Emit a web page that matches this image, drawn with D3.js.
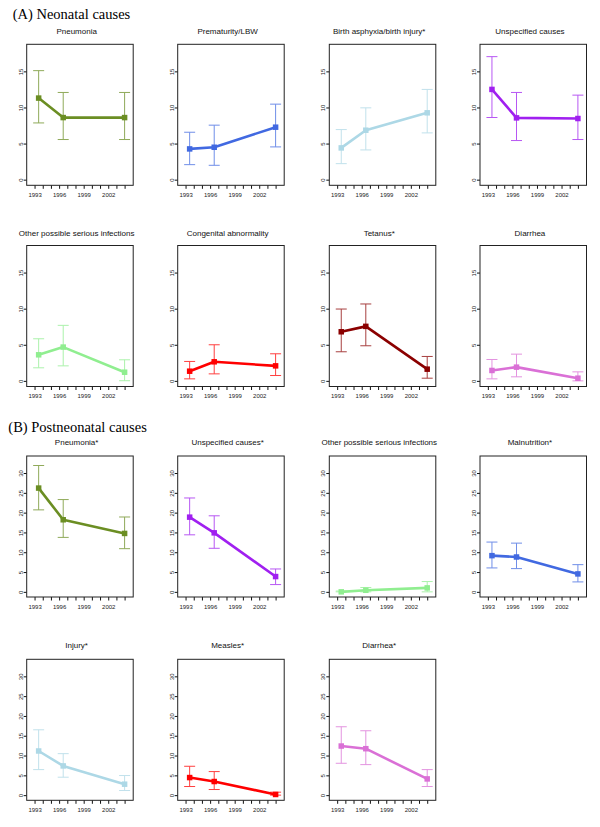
<!DOCTYPE html>
<html>
<head>
<meta charset="utf-8">
<script src="https://cdn.jsdelivr.net/npm/d3@7"></script>
<style>
  html, body { margin: 0; padding: 0; background: #fff; }
  svg { display: block; }
</style>
</head>
<body>
<svg id="chart" width="600" height="827"></svg>
<script>
// ---------------- DATA ----------------
const surveyYears = [1993.5, 1996.5, 2004];
const xTickYears = [1993, 1994, 1995, 1996, 1997, 1998, 1999, 2000, 2001, 2002, 2003, 2004];
const xTickLabels = [1993, 1996, 1999, 2002];
const neoTicks = [0, 5, 10, 15];
const postTicks = [0, 5, 10, 15, 20, 25, 30];

const neonatalCauses = ["Pneumonia", "Prematurity/LBW", "Birth asphyxia/birth injury*", "Unspecified causes",
  "Other possible serious infections", "Congenital abnormality", "Tetanus*", "Diarrhea"];
const neonatalEst = [
  [11.3, 8.6, 8.6], [4.26, 4.49, 7.27], [4.4, 6.85, 9.26], [12.5, 8.56, 8.47],
  [3.61, 4.68, 1.2], [1.34, 2.64, 2.08], [6.8, 7.55, 1.62], [1.44, 1.9, 0.37]];
const neonatalLower = [
  [7.86, 5.56, 5.56], [2.08, 1.99, 4.54], [2.22, 4.12, 6.48], [8.61, 5.42, 5.56],
  [1.81, 2.08, 0.02], [0.28, 0.97, 0.74], [4.03, 4.86, 0.37], [0.28, 0.56, 0.0]];
const neonatalUpper = [
  [15.1, 12.08, 12.08], [6.57, 7.55, 10.46], [6.94, 9.95, 12.5], [17.04, 12.08, 11.71],
  [5.83, 7.69, 2.92], [2.69, 5.0, 3.75], [9.95, 10.65, 3.38], [2.96, 3.7, 1.25]];

const postneonatalCauses = ["Pneumonia*", "Unspecified causes*", "Other possible serious infections", "Malnutrition*",
  "Injury*", "Measles*", "Diarrhea*"];
const postneonatalEst = [
  [26.2, 18.2, 14.75], [18.86, 14.9, 3.86], [0.0, 0.4, 1.0], [9.14, 8.8, 4.53],
  [11.15, 7.38, 2.77], [4.44, 3.44, 0.17], [12.4, 11.73, 4.1]];
const postneonatalLower = [
  [20.7, 13.75, 10.9], [14.4, 11.0, 1.84], [0.0, 0.0, 0.0], [6.04, 5.87, 2.51],
  [6.45, 4.53, 1.17], [2.18, 1.42, 0.0], [8.05, 7.71, 2.18]];
const postneonatalUpper = [
  [31.9, 23.3, 18.9], [23.7, 19.2, 5.78], [0.2, 1.1, 2.6], [12.57, 12.3, 6.87],
  [16.5, 10.48, 4.95], [7.29, 5.95, 0.75], [17.27, 16.26, 6.45]];

// colours (styles kept apart from data)
const neonatalColors = ["#6B8E23", "#4169E1", "#ADD8E6", "#A020F0", "#90EE90", "#FF0000", "#8B0000", "#DA70D6"];
const postneonatalColors = ["#6B8E23", "#A020F0", "#90EE90", "#4169E1", "#ADD8E6", "#FF0000", "#DA70D6"];

// ---------------- LAYOUT ----------------
const svg = d3.select("#chart");
const colLeft = [26.7, 177.7, 329.3, 480];
const boxW = 106.5, boxH = 141;
const rowTopA = [44.3, 245.5];
const rowTopB = [456, 659.3];

svg.append("text").attr("x", 12.7).attr("y", 19.3)
  .attr("font-family", "Liberation Serif, Times New Roman, serif").attr("font-size", 14.5)
  .attr("fill", "#000").text("(A) Neonatal causes");
svg.append("text").attr("x", 8.3).attr("y", 432.3)
  .attr("font-family", "Liberation Serif, Times New Roman, serif").attr("font-size", 14.5)
  .attr("fill", "#000").text("(B) Postneonatal causes");

function panel(left, top, title, est, lo, hi, color, yDomain, yTicks, titleGap) {
  const g = svg.append("g").attr("transform", `translate(${left},${top})`);
  const x = d3.scaleLinear().domain([1992.04, 2005.05]).range([0, boxW]);
  const y = d3.scaleLinear().domain(yDomain).range([boxH, 0]);

  // title
  g.append("text").attr("x", boxW / 2 - 3.3).attr("y", -titleGap)
    .attr("text-anchor", "middle")
    .attr("font-family", "Liberation Sans, Arial, sans-serif").attr("font-size", 8)
    .attr("fill", "#111").text(title);

  // y axis
  const ya = g.append("g").call(d3.axisLeft(y).tickValues(yTicks).tickSize(3).tickFormat(d3.format("d")));
  ya.select(".domain").remove();
  ya.selectAll(".tick line").attr("stroke", "#111");
  ya.selectAll(".tick text")
    .attr("x", null).attr("dy", null)
    .attr("transform", "translate(-4,0) rotate(-90)")
    .attr("text-anchor", "middle")
    .attr("font-family", "Liberation Sans, Arial, sans-serif").attr("font-size", 6)
    .attr("fill", "#222");

  // x axis
  const xa = g.append("g").attr("transform", `translate(0,${boxH})`)
    .call(d3.axisBottom(x).tickValues(xTickYears).tickSize(3.5)
      .tickFormat(d => xTickLabels.includes(d) ? String(d) : ""));
  xa.select(".domain").remove();
  xa.selectAll(".tick line").attr("stroke", "#111");
  xa.selectAll(".tick text").attr("y", 7.5).attr("dy", "0.71em")
    .attr("font-family", "Liberation Sans, Arial, sans-serif").attr("font-size", 6)
    .attr("fill", "#222");

  // frame
  g.append("rect").attr("x", 0).attr("y", 0).attr("width", boxW).attr("height", boxH)
    .attr("fill", "none").attr("stroke", "#222").attr("stroke-width", 1);

  const pts = surveyYears.map((yr, i) => ({ yr, v: est[i], lo: lo[i], hi: hi[i] }));

  // error bars
  const eb = g.append("g").attr("stroke", color).attr("stroke-width", 1).attr("opacity", 0.75);
  pts.forEach(p => {
    const cx = x(p.yr);
    eb.append("line").attr("x1", cx).attr("x2", cx).attr("y1", y(p.lo)).attr("y2", y(p.hi));
    eb.append("line").attr("x1", cx - 5.5).attr("x2", cx + 5.5).attr("y1", y(p.lo)).attr("y2", y(p.lo));
    eb.append("line").attr("x1", cx - 5.5).attr("x2", cx + 5.5).attr("y1", y(p.hi)).attr("y2", y(p.hi));
  });

  // line
  g.append("path").datum(pts)
    .attr("d", d3.line().x(d => x(d.yr)).y(d => y(d.v)))
    .attr("fill", "none").attr("stroke", color).attr("stroke-width", 2.6)
    .attr("stroke-linejoin", "round");

  // markers
  g.selectAll("rect.pt").data(pts).enter().append("rect").attr("class", "pt")
    .attr("x", d => x(d.yr) - 2.75).attr("y", d => y(d.v) - 2.75)
    .attr("width", 5.5).attr("height", 5.5).attr("fill", color);
}

neonatalCauses.forEach((name, i) => {
  const col = i % 4, row = Math.floor(i / 4);
  panel(colLeft[col], rowTopA[row], name, neonatalEst[i], neonatalLower[i], neonatalUpper[i],
    neonatalColors[i], [-0.78, 18.75], neoTicks, 10);
});
postneonatalCauses.forEach((name, i) => {
  const col = i % 4, row = Math.floor(i / 4);
  panel(colLeft[col], rowTopB[row], name, postneonatalEst[i], postneonatalLower[i], postneonatalUpper[i],
    postneonatalColors[i], [-1.3, 34.3], postTicks, 11);
});
</script>
</body>
</html>
